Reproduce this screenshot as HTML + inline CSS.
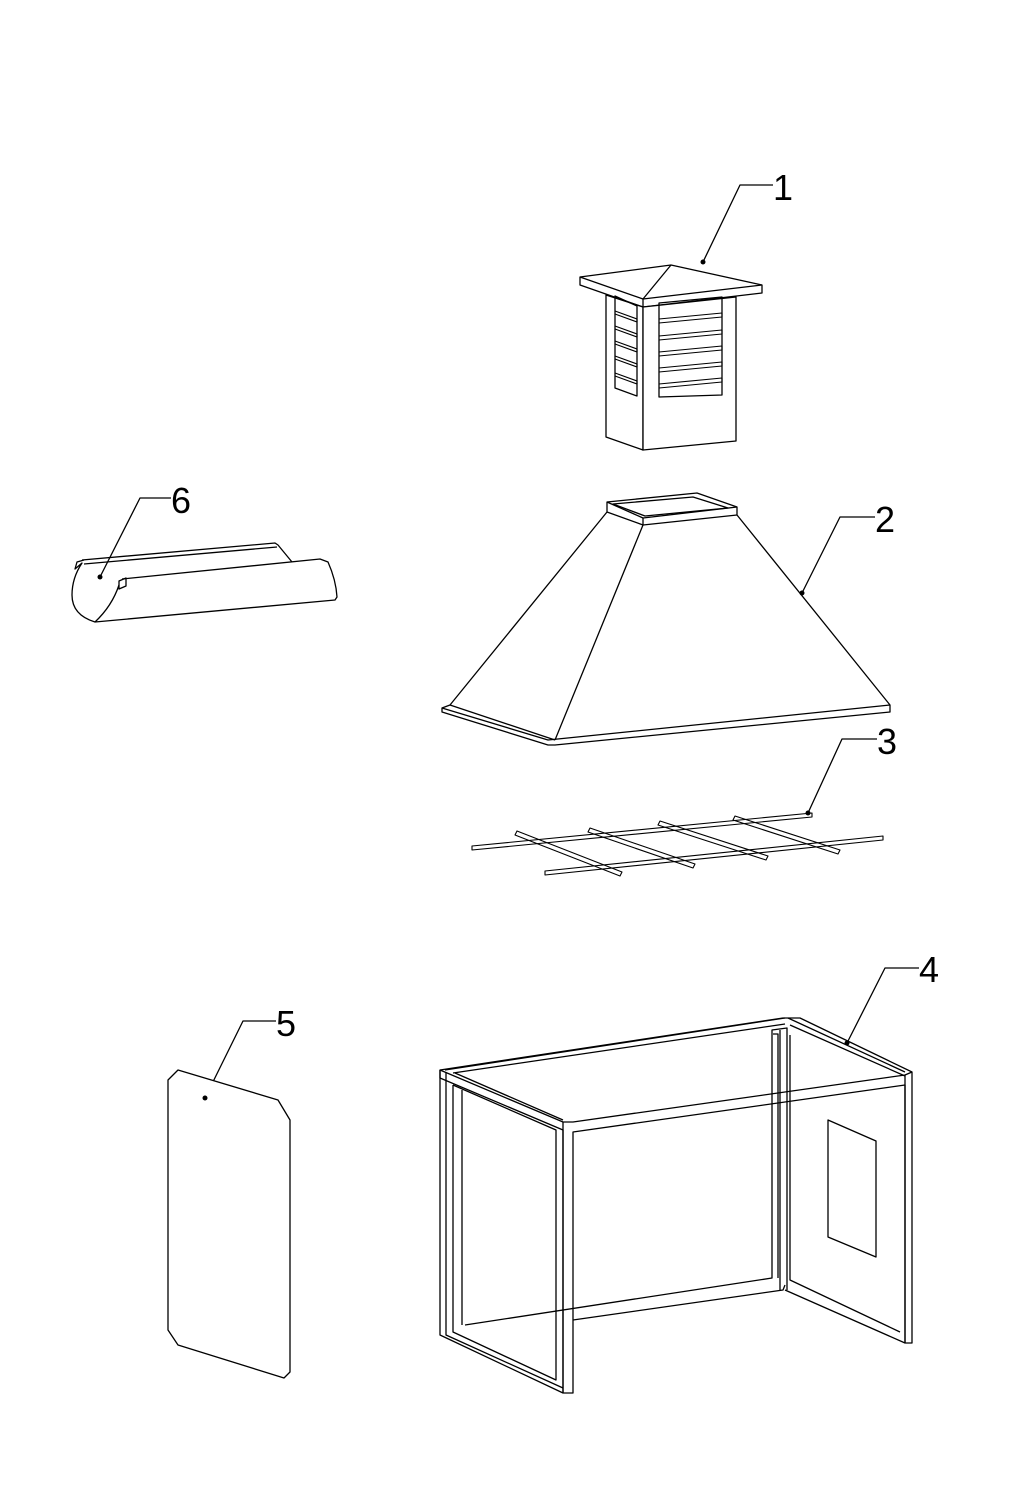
<!DOCTYPE html>
<html><head><style>
html,body{margin:0;padding:0;background:#fff;}
svg{display:block}
text{font-family:"Liberation Sans",sans-serif;font-size:36px;fill:#000}
</style></head><body>
<svg width="1024" height="1491" viewBox="0 0 1024 1491" xmlns="http://www.w3.org/2000/svg">
<g fill="none" stroke="#000" stroke-width="1.3" stroke-linejoin="round">
<!-- leaders -->
<polyline points="773,185 740,185 703,262"/>
<polyline points="875,517 840,517 802,593"/>
<polyline points="877,739 842,739 808,813"/>
<polyline points="919,968 885,968 847,1043"/>
<polyline points="276,1021 243,1021 205,1098"/>
<polyline points="171,498 140,498 100,577"/>
<!-- Part 1 cupola -->
<polygon points="580,277 671,265 762,285 762,293 643,307 580,285" fill="#fff"/>
<polyline points="580,277 643,299 762,285"/>
<line x1="643" y1="299" x2="643" y2="307"/>
<line x1="671" y1="265" x2="643" y2="299"/>
<polygon points="606,295 643,307 643,450 606,437" fill="#fff"/>
<polygon points="643,307 736,297 736,441 643,450" fill="#fff"/>
<polygon points="615,296 637,306 637,396 615,388"/>
<polygon points="659,303 722,297 722,395 659,397"/>
<g stroke-width="1.1">
<polyline points="615,311 637,319 637,322 615,314"/><polyline points="615,326 637,334 637,337 615,329"/>
<polyline points="615,341 637,349 637,352 615,344"/><polyline points="615,356 637,364 637,367 615,359"/>
<polyline points="615,373 637,381 637,384 615,376"/>
<polyline points="659,319 722,313 722,317 659,323"/><polyline points="659,336 722,330 722,334 659,340"/>
<polyline points="659,352 722,346 722,350 659,356"/><polyline points="659,368 722,362 722,366 659,372"/>
<polyline points="659,384 722,378 722,382 659,388"/>
</g>
<!-- Part 2 hood -->
<polygon points="442,708 450,705 607,512 607,502 697,493 737,507 737,515 890,705 890,712 555,745 548,745 442,712" fill="#fff"/>
<polyline points="607,502 643,518 737,507"/>
<polyline points="607,512 643,525 737,515"/>
<line x1="643" y1="518" x2="643" y2="525"/>
<polygon points="613,504 693,497 728,508 645,516"/>
<line x1="643" y1="525" x2="555" y2="740"/>
<polyline points="442,708 548,740 890,705"/>
<polyline points="450,705 555,740"/>
<!-- Part 3 grid -->
<g stroke-width="1.1">
<polygon points="472,846 812,813 812,817 472,850"/>
<polygon points="545,871 883,836 883,840 545,875"/>
<polygon points="517,831 622,872 620,876 515,835"/>
<polygon points="590,828 695,864 693,868 588,832"/>
<polygon points="660,821 768,856 766,860 658,825"/>
<polygon points="735,816 840,850 838,854 733,820"/>
</g>
<!-- Part 6 -->
<path d="M82,560 L275,543 L278,545 L292,562"/>
<path d="M84,564 L277,547"/>
<path d="M122,579 L320,559 L328,562 Q336,580 337,597 L335,600 L95,622 Q72,615 72,595 Q72,578 82,563 L75,569 L77,562 L84,560"/>
<path d="M95,622 Q112,606 119,585"/>
<polygon points="119,581 126,578 126,586 119,589"/>
<!-- Part 5 panel -->
<polygon points="178,1070 278,1100 290,1120 290,1372 284,1378 178,1345 168,1330 168,1080" fill="#fff"/>
<!-- Part 4 frame -->
<polygon points="440,1070 783,1018 800,1018 912,1072 912,1343 905,1343 905,1085 573,1132 573,1393 563,1393 563,1130 440,1078"/>
<polyline points="440,1070 563,1122 573,1122 905,1075 912,1072"/>
<polyline points="455,1073 563,1120"/><polyline points="445,1070 785,1018"/>
<polyline points="453,1073 785,1024"/>
<polyline points="788,1018 905,1072"/><polyline points="790,1025 905,1076"/>
<line x1="563" y1="1122" x2="563" y2="1393"/>
<line x1="905" y1="1075" x2="905" y2="1343"/>
<polyline points="440,1070 440,1335 563,1393"/><polyline points="446,1072 446,1335 563,1388"/>
<polyline points="453,1085 453,1332 556,1380 556,1130 453,1085"/>
<polyline points="462,1090 462,1325"/>
<polyline points="573,1320 783,1290 785,1285"/><polyline points="465,1325 772,1278 772,1030 787,1028 787,1290"/>
<polyline points="773,1034 778,1034 778,1278"/><polyline points="780,1030 780,1290"/>
<polyline points="790,1035 790,1280 900,1332"/><polyline points="785,1290 905,1343"/>
<polygon points="828,1120 876,1141 876,1257 828,1237"/>
</g>
<g fill="#000">
<circle cx="703" cy="262" r="2.5"/><circle cx="802" cy="593" r="2.5"/><circle cx="808" cy="813" r="2.5"/>
<circle cx="847" cy="1043" r="2.5"/><circle cx="205" cy="1098" r="2.5"/><circle cx="100" cy="577" r="2.5"/>
</g>
<text x="773" y="200">1</text><text x="875" y="532">2</text><text x="877" y="754">3</text>
<text x="919" y="982">4</text><text x="276" y="1036">5</text><text x="171" y="513">6</text>
</svg>
</body></html>
